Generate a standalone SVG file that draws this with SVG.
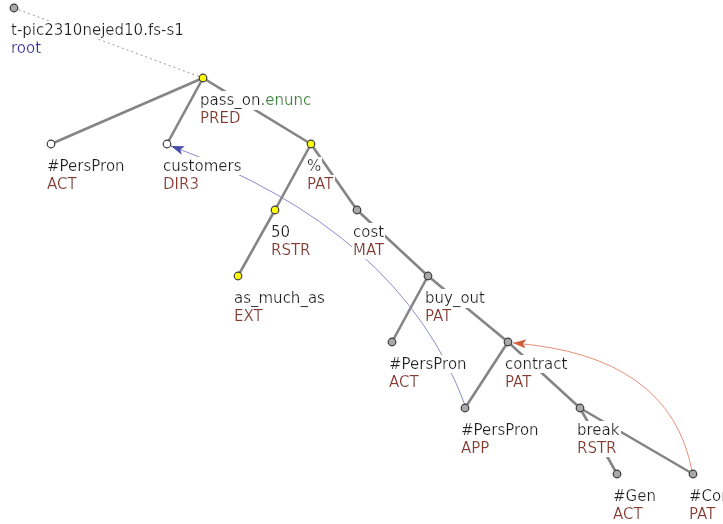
<svg xmlns="http://www.w3.org/2000/svg" width="723" height="524" viewBox="0 0 723 524">
<defs>
<style>
text{font-family:"DejaVu Sans",sans-serif;font-size:15px;filter:url(#bg)}
.t{fill:#222}
.f{fill:#8b3a2e}
.root{fill:#3535a5}
.g{fill:#3a8a3a}
.edge{stroke:#858585;stroke-width:2.6;fill:none;stroke-linecap:round}
.dot{stroke:#9a9a9a;stroke-width:1;fill:none;stroke-dasharray:2,3}
.n{stroke:#3a3a3a;stroke-width:1.2}
.y{fill:#ffff00}
.gr{fill:#a9a9a9}
.w{fill:#ffffff}
.coref{stroke:#8c8cd0;stroke-width:1;fill:none}
.aux{stroke:#e8907a;stroke-width:1;fill:none}
</style>
<filter id="bg" x="-0.02" y="0" width="1.04" height="1">
<feFlood flood-color="#ffffff"/>
<feMerge><feMergeNode/><feMergeNode in="SourceGraphic"/></feMerge>
</filter>
<marker id="ab" markerUnits="userSpaceOnUse" markerWidth="14" markerHeight="10" refX="13" refY="4.5" orient="auto">
<path d="M0,0 L13,4.5 L0,9 L3,4.5 z" fill="#4a4aa8"/>
</marker>
<marker id="ao" markerUnits="userSpaceOnUse" markerWidth="14" markerHeight="10" refX="13" refY="4.5" orient="auto">
<path d="M0,0 L13,4.5 L0,9 L3,4.5 z" fill="#d0603a"/>
</marker>
</defs>
<rect width="723" height="524" fill="#ffffff"/>
<g id="connectors">
<line class="dot" x1="14" y1="8" x2="203" y2="78"/>
<line class="edge" x1="203" y1="78" x2="51" y2="144"/>
<line class="edge" x1="203" y1="78" x2="167" y2="144"/>
<line class="edge" x1="203" y1="78" x2="311" y2="144"/>
<line class="edge" x1="311" y1="144" x2="275" y2="210"/>
<line class="edge" x1="275" y1="210" x2="238" y2="276"/>
<line class="edge" x1="311" y1="144" x2="357" y2="210"/>
<line class="edge" x1="357" y1="210" x2="428" y2="276"/>
<line class="edge" x1="428" y1="276" x2="392" y2="342"/>
<line class="edge" x1="428" y1="276" x2="508" y2="342"/>
<line class="edge" x1="508" y1="342" x2="465" y2="408"/>
<line class="edge" x1="508" y1="342" x2="580" y2="408"/>
<line class="edge" x1="580" y1="408" x2="617" y2="474"/>
<line class="edge" x1="580" y1="408" x2="693" y2="474"/>
<path class="coref" d="M465,405 Q400,230 171,146" marker-end="url(#ab)"/>
<path class="aux" d="M692,471 Q670,355 513,343" marker-end="url(#ao)"/>
</g>
<g id="n-root">
<circle class="n gr" cx="14" cy="8" r="3.8"/>
<text class="t" x="11" y="35">t-pic2310nejed10.fs-s1</text>
<text class="root" x="11" y="53">root</text>
</g>
<g id="n-pass_on">
<circle class="n y" cx="203" cy="78" r="3.8"/>
<text class="t" x="200" y="105">pass_on<tspan class="g">.enunc</tspan></text>
<text class="f" x="200" y="123">PRED</text>
</g>
<g id="n-perspron1">
<circle class="n w" cx="51" cy="144" r="3.8"/>
<text class="t" x="47" y="171">#PersPron</text>
<text class="f" x="47" y="189">ACT</text>
</g>
<g id="n-customers">
<circle class="n w" cx="167" cy="144" r="3.8"/>
<text class="t" x="163" y="171">customers</text>
<text class="f" x="163" y="189">DIR3</text>
</g>
<g id="n-percent">
<circle class="n y" cx="311" cy="144" r="3.8"/>
<text class="t" x="307" y="171">%</text>
<text class="f" x="307" y="189">PAT</text>
</g>
<g id="n-50">
<circle class="n y" cx="275" cy="210" r="3.8"/>
<text class="t" x="271" y="237">50</text>
<text class="f" x="271" y="255">RSTR</text>
</g>
<g id="n-as_much_as">
<circle class="n y" cx="238" cy="276" r="3.8"/>
<text class="t" x="234" y="303">as_much_as</text>
<text class="f" x="234" y="321">EXT</text>
</g>
<g id="n-cost">
<circle class="n gr" cx="357" cy="210" r="3.8"/>
<text class="t" x="353" y="237">cost</text>
<text class="f" x="353" y="255">MAT</text>
</g>
<g id="n-buy_out">
<circle class="n gr" cx="428" cy="276" r="3.8"/>
<text class="t" x="425" y="303">buy_out</text>
<text class="f" x="425" y="321">PAT</text>
</g>
<g id="n-perspron2">
<circle class="n gr" cx="392" cy="342" r="3.8"/>
<text class="t" x="389" y="369">#PersPron</text>
<text class="f" x="389" y="387">ACT</text>
</g>
<g id="n-contract">
<circle class="n gr" cx="508" cy="342" r="3.8"/>
<text class="t" x="505" y="369">contract</text>
<text class="f" x="505" y="387">PAT</text>
</g>
<g id="n-perspron3">
<circle class="n gr" cx="465" cy="408" r="3.8"/>
<text class="t" x="461" y="435">#PersPron</text>
<text class="f" x="461" y="453">APP</text>
</g>
<g id="n-break">
<circle class="n gr" cx="580" cy="408" r="3.8"/>
<text class="t" x="577" y="435">break</text>
<text class="f" x="577" y="453">RSTR</text>
</g>
<g id="n-gen">
<circle class="n gr" cx="617" cy="474" r="3.8"/>
<text class="t" x="613" y="501">#Gen</text>
<text class="f" x="613" y="519">ACT</text>
</g>
<g id="n-cor">
<circle class="n gr" cx="693" cy="474" r="3.8"/>
<text class="t" x="689" y="501">#Cor</text>
<text class="f" x="689" y="519">PAT</text>
</g>
</svg>
